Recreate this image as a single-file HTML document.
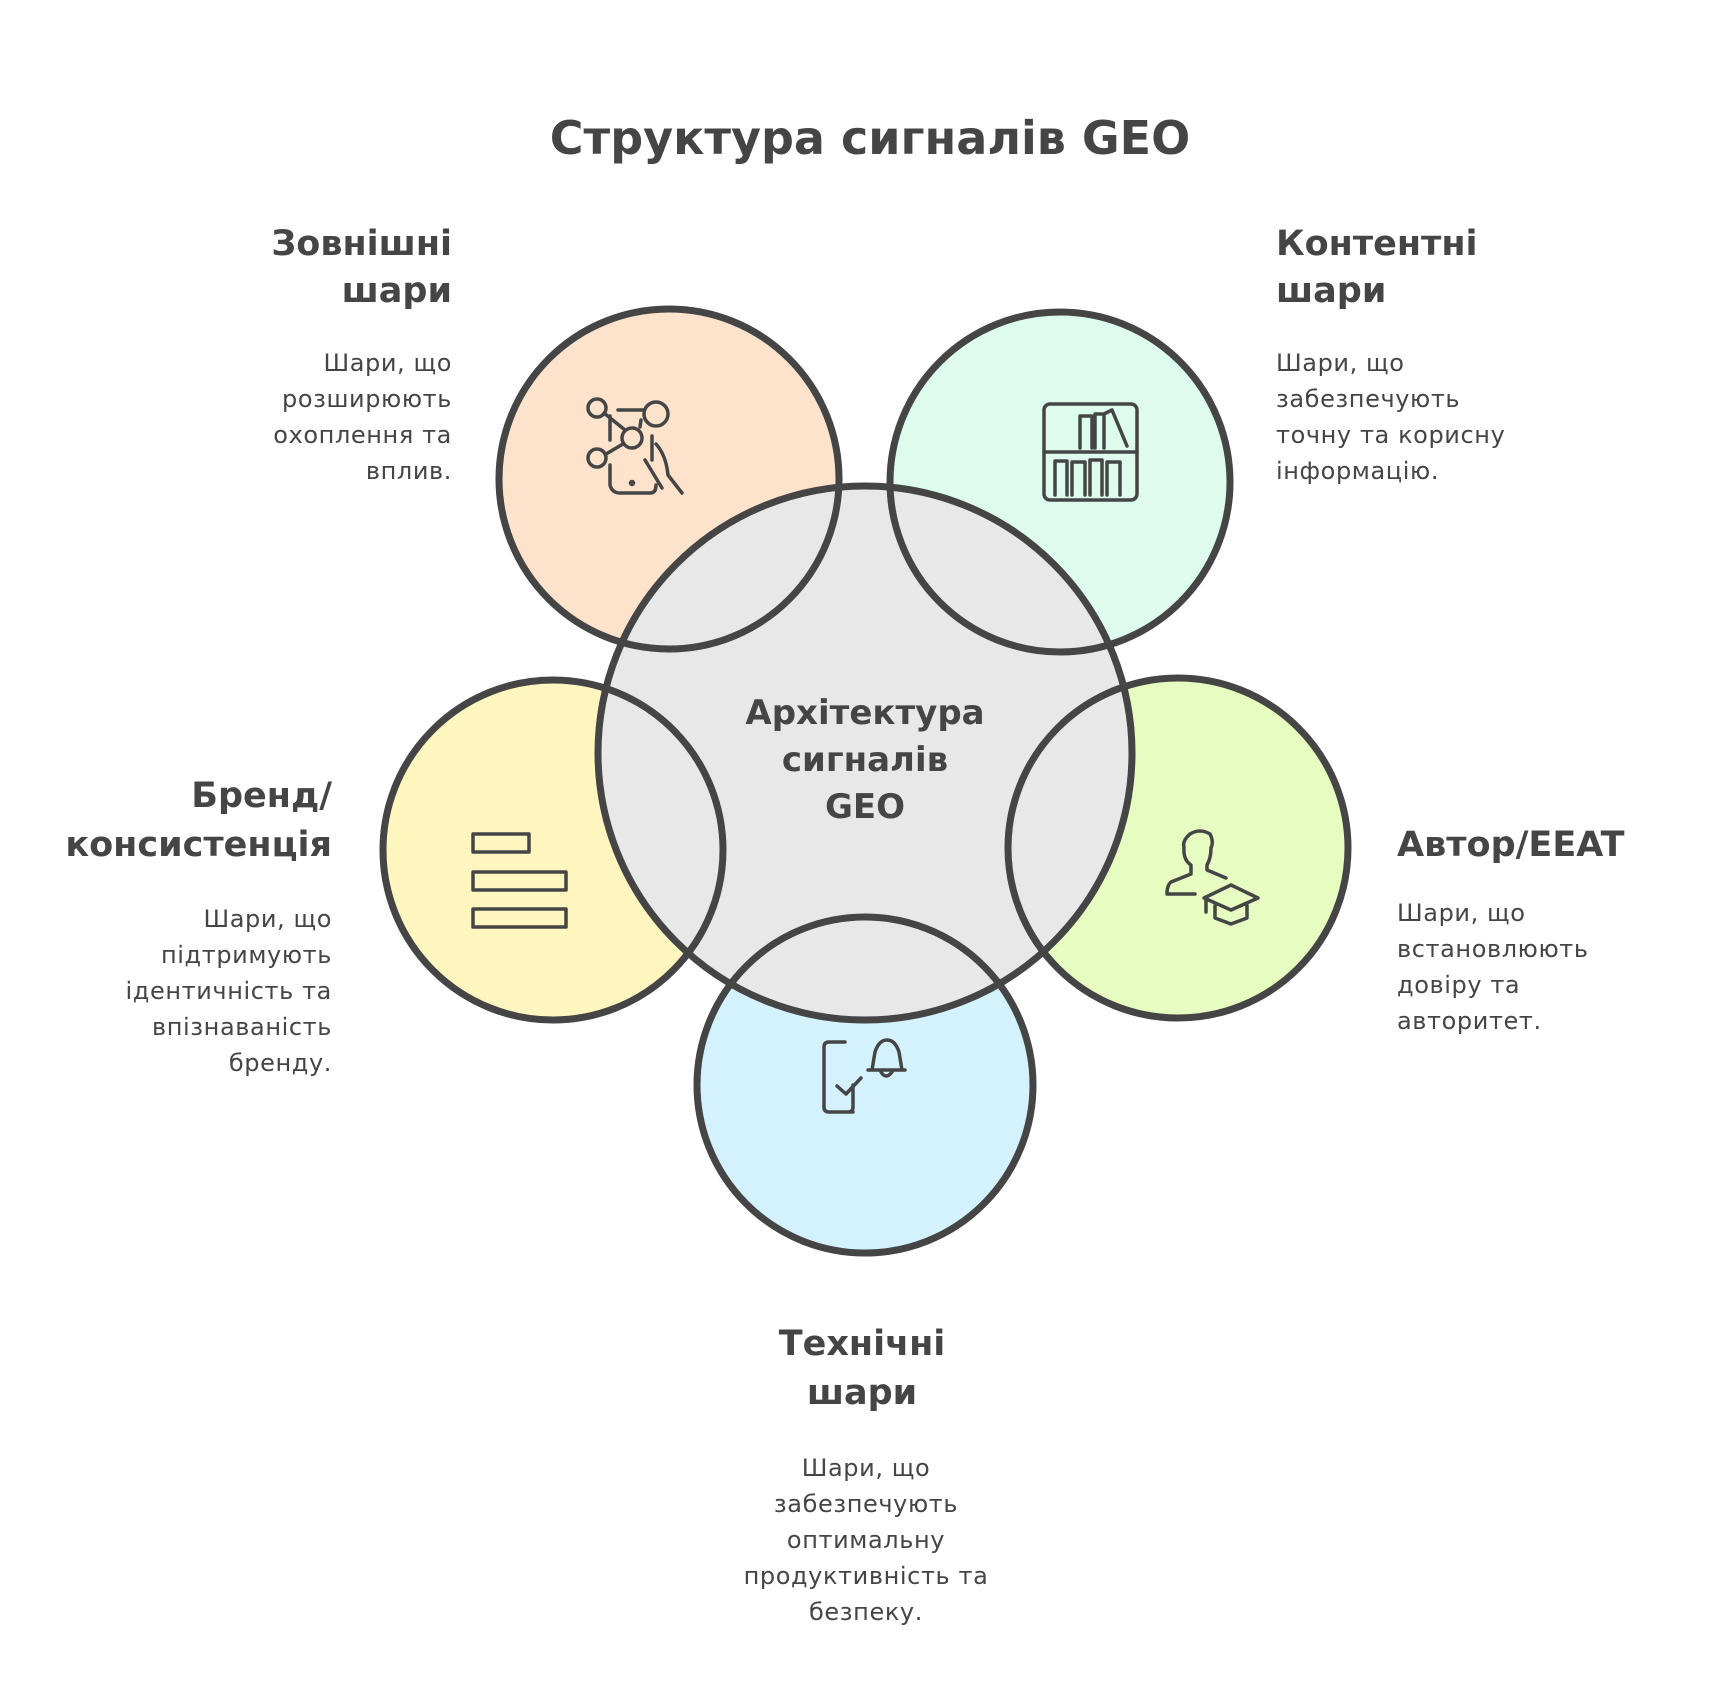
<!DOCTYPE html>
<html><head><meta charset="utf-8"><style>
html,body{margin:0;padding:0;background:#fff}
svg{display:block}
text{font-family:"DejaVu Sans","Liberation Sans",sans-serif;fill:#454545}
.h{font-weight:bold;font-size:35px}
.b{font-size:24px;letter-spacing:0.6px}
</style></head><body>
<svg width="1730" height="1704" viewBox="0 0 1730 1704" xmlns="http://www.w3.org/2000/svg">
<text x="870" y="154" text-anchor="middle" font-weight="bold" font-size="46">Структура сигналів GEO</text>
<g>
<circle cx="669" cy="479" r="170" fill="#fde3cc"/>
<circle cx="1060" cy="482" r="170" fill="#ddfcee"/>
<circle cx="553" cy="850" r="170" fill="#fef6be"/>
<circle cx="1178" cy="848" r="170" fill="#e6fcc0"/>
<circle cx="865" cy="1085" r="168" fill="#d3f2fd"/>
<circle cx="865" cy="753" r="267" fill="#e8e8e8"/>
</g>
<g fill="none" stroke="#454545" stroke-width="7">
<circle cx="669" cy="479" r="170"/>
<circle cx="1060" cy="482" r="170"/>
<circle cx="553" cy="850" r="170"/>
<circle cx="1178" cy="848" r="170"/>
<circle cx="865" cy="1085" r="168"/>
<circle cx="865" cy="753" r="267"/>
</g>
<g fill="none" stroke="#454545" stroke-width="3.5" stroke-linecap="round" stroke-linejoin="round">
<circle cx="597" cy="408" r="9"/><circle cx="656" cy="414" r="12"/><circle cx="632" cy="438" r="10"/><circle cx="597" cy="458" r="9"/>
<path d="M604 413 L625 430 M618 410 L644 410 M641 420 L640 427 M606 454 L623 444 M610 416 L610 440 M610 465 L610 485 Q612 493 620 493 L650 493 Q656 493 656 485 M652 436 L652 460 M656 444 Q666 455 668 475 L682 493 M645 460 L662 488"/>
<circle cx="632" cy="483" r="1.5"/>
<g transform="translate(-8,0)">
<rect x="1052" y="404" width="93" height="96" rx="6"/>
<path d="M1052 452 L1145 452 M1088 448 L1088 416 L1100 416 L1100 448 M1103 448 L1103 414 L1112 414 L1112 448 M1112 414 L1120 410 L1135 446 M1063 495 L1063 461 L1075 461 L1075 495 M1080 495 L1080 462 L1093 462 L1093 495 M1098 495 L1098 460 L1110 460 L1110 495 M1115 495 L1115 462 L1128 462 L1128 495"/>
</g>
<rect x="473" y="834" width="56" height="18"/><rect x="473" y="872" width="93" height="18"/><rect x="473" y="909" width="93" height="18"/>
<path d="M1191 874 L1191 865 Q1183 860 1184 847 Q1182 841 1190 834 Q1200 828 1210 834 Q1214 842 1211 848 Q1211 858 1207 865 L1207 870 L1226 878 M1191 874 L1171 882 Q1167 885 1167 894 L1195 894 M1204 898 L1231 885 L1258 898 L1231 910 Z M1215 903 L1215 918 L1231 924 L1247 918 L1247 903 M1206 900 L1206 912"/>
<g transform="translate(-5,0)">
<path d="M858 1112 L834 1112 Q829 1112 829 1107 L829 1047 Q829 1042 834 1042 L850 1042 M858 1085 L858 1107 Q858 1112 853 1112 M842 1086 L851 1094 L866 1078 M873 1070 L910 1070 M877 1070 L880 1052 Q884 1040 892 1040 Q900 1040 904 1052 L907 1070 M886 1072 Q891 1080 897 1072"/>
</g>
</g>
<text x="865" y="724" text-anchor="middle" font-weight="bold" font-size="34">Архітектура</text>
<text x="865" y="771" text-anchor="middle" font-weight="bold" font-size="34">сигналів</text>
<text x="865" y="818" text-anchor="middle" font-weight="bold" font-size="34">GEO</text>
<text class="h" x="452" y="255" text-anchor="end">Зовнішні</text>
<text class="h" x="452" y="302" text-anchor="end">шари</text>
<text class="b" x="452" y="371" text-anchor="end">Шари, що</text><text class="b" x="452" y="407" text-anchor="end">розширюють</text><text class="b" x="452" y="443" text-anchor="end">охоплення та</text><text class="b" x="452" y="479" text-anchor="end">вплив.</text>
<text class="h" x="1276" y="255">Контентні</text>
<text class="h" x="1276" y="302">шари</text>
<text class="b" x="1276" y="371">Шари, що</text><text class="b" x="1276" y="407">забезпечують</text><text class="b" x="1276" y="443">точну та корисну</text><text class="b" x="1276" y="479">інформацію.</text>
<text class="h" x="332" y="807" text-anchor="end">Бренд/</text>
<text class="h" x="332" y="856" text-anchor="end">консистенція</text>
<text class="b" x="332" y="927" text-anchor="end">Шари, що</text><text class="b" x="332" y="963" text-anchor="end">підтримують</text><text class="b" x="332" y="999" text-anchor="end">ідентичність та</text><text class="b" x="332" y="1035" text-anchor="end">впізнаваність</text><text class="b" x="332" y="1071" text-anchor="end">бренду.</text>
<text class="h" x="1397" y="856">Автор/EEAT</text>
<text class="b" x="1397" y="921">Шари, що</text><text class="b" x="1397" y="957">встановлюють</text><text class="b" x="1397" y="993">довіру та</text><text class="b" x="1397" y="1029">авторитет.</text>
<text class="h" x="862" y="1355" text-anchor="middle">Технічні</text>
<text class="h" x="862" y="1404" text-anchor="middle">шари</text>
<text class="b" x="866" y="1476" text-anchor="middle">Шари, що</text><text class="b" x="866" y="1512" text-anchor="middle">забезпечують</text><text class="b" x="866" y="1548" text-anchor="middle">оптимальну</text><text class="b" x="866" y="1584" text-anchor="middle">продуктивність та</text><text class="b" x="866" y="1620" text-anchor="middle">безпеку.</text>
</svg>
</body></html>
